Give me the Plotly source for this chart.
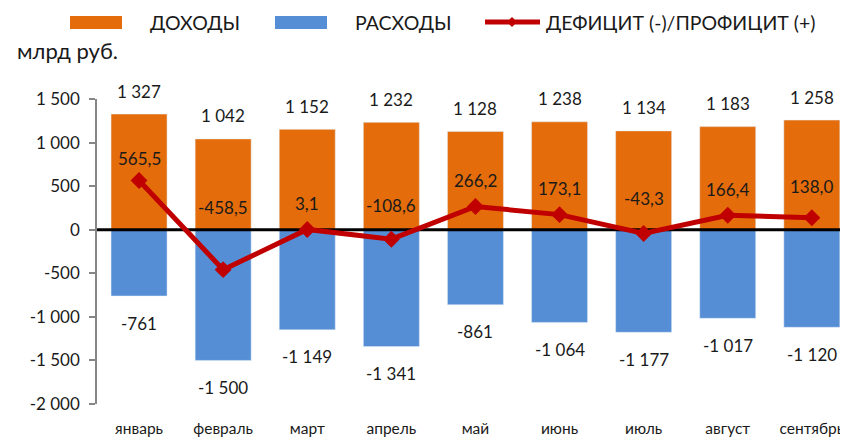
import plotly.graph_objects as go

MONTHS = ["январь", "февраль", "март", "апрель", "май", "июнь", "июль", "август", "сентябрь"]
REVENUE = [1327, 1042, 1152, 1232, 1128, 1238, 1134, 1183, 1258]
EXPENSES = [-761, -1500, -1149, -1341, -861, -1064, -1177, -1017, -1120]
BALANCE = [565.5, -458.5, 3.1, -108.6, 266.2, 173.1, -43.3, 166.4, 138.0]
Y_TICKS = [1500, 1000, 500, 0, -500, -1000, -1500, -2000]
Y_TICK_LABELS = ["1 500", "1 000", "500", "0", "-500", "-1 000", "-1 500", "-2 000"]
LEGEND_NAMES = ["ДОХОДЫ", "РАСХОДЫ", "ДЕФИЦИТ (-)/ПРОФИЦИТ (+)"]
UNIT = "млрд руб."

# label offsets (style only, pixels)
BALANCE_LABEL_SHIFT = [22, 62, 26, 34, 26, 26, 35, 26, 31]

# page has an 8px body margin: the figure is placed at (8, 8) in the 848x438 window
OFF = 8
W, H = 848 - OFF, 438 - OFF
ML, MR, MT, MB = 97 - OFF, 0, 99 - OFF, 34
PW, PH = W - ML - MR, H - MT - MB

ORANGE = "#E46C0A"
BLUE = "#558ED5"
RED = "#C00000"
FONT = "Lato"
TEXT = "#1a1a1a"


def px(x):
    """window pixel x -> paper fraction"""
    return (x - OFF - ML) / PW


def py(y):
    """window pixel y -> paper fraction"""
    return (H - MB - (y - OFF)) / PH


def fmt_int(v):
    s = f"{abs(v):,}".replace(",", " ")
    return ("-" if v < 0 else "") + s


def fmt_dec(v):
    return f"{v:.1f}".replace(".", ",")


fig = go.Figure()
fig.add_trace(go.Bar(x=MONTHS, y=REVENUE, name=LEGEND_NAMES[0], marker_color=ORANGE,
                     width=0.666, showlegend=False))
fig.add_trace(go.Bar(x=MONTHS, y=EXPENSES, name=LEGEND_NAMES[1], marker_color=BLUE,
                     width=0.666, showlegend=False))
# zero line on an overlay axis (drawn above bars, below balance line)
fig.add_trace(go.Scatter(x=[0, 1], y=[0, 0], mode="lines", xaxis="x2",
                         line=dict(color="black", width=3), hoverinfo="skip", showlegend=False))
fig.add_trace(go.Scatter(x=MONTHS, y=BALANCE, name=LEGEND_NAMES[2], mode="lines+markers", xaxis="x3",
                         line=dict(color=RED, width=5),
                         marker=dict(symbol="diamond", size=13, color=RED), showlegend=False))

LBL = dict(family=FONT, size=17, color=TEXT)
ann = []
for m, v in zip(MONTHS, REVENUE):
    ann.append(dict(x=m, y=v, text=fmt_int(v), showarrow=False, yshift=23, font=LBL))
for m, v in zip(MONTHS, EXPENSES):
    ann.append(dict(x=m, y=v, text=fmt_int(v), showarrow=False, yshift=-27, font=LBL))
for m, v, s in zip(MONTHS, BALANCE, BALANCE_LABEL_SHIFT):
    ann.append(dict(x=m, y=v, text=fmt_dec(v), showarrow=False, yshift=s, font=LBL))

# custom legend
shapes = [
    dict(type="rect", xref="paper", yref="paper", x0=px(70), x1=px(122), y0=py(29), y1=py(16),
         fillcolor=ORANGE, line=dict(width=0)),
    dict(type="rect", xref="paper", yref="paper", x0=px(275), x1=px(327), y0=py(29), y1=py(16),
         fillcolor=BLUE, line=dict(width=0)),
    dict(type="line", xref="paper", yref="paper", x0=px(485), x1=px(540), y0=py(22), y1=py(22),
         line=dict(color=RED, width=5)),
    dict(type="path", xref="paper", yref="paper",
         path=f"M{px(512)},{py(17)} L{px(517)},{py(22)} L{px(512)},{py(27)} L{px(507)},{py(22)} Z",
         fillcolor=RED, line=dict(width=0)),
]
for name, x0 in zip(LEGEND_NAMES, [148, 353, 544]):
    ann.append(dict(xref="paper", yref="paper", x=px(x0), y=py(22), xanchor="left", yanchor="middle",
                    text=name, showarrow=False, font=dict(family=FONT, size=19.5, color=TEXT)))
ann.append(dict(xref="paper", yref="paper", x=px(15), y=py(50), xanchor="left", yanchor="middle",
                text=UNIT, showarrow=False, font=dict(family=FONT, size=22, color=TEXT)))

fig.update_layout(
    width=W, height=H,
    margin=dict(l=ML, r=MR, t=MT, b=MB, autoexpand=False),
    paper_bgcolor="white", plot_bgcolor="white",
    barmode="relative",
    showlegend=False,
    annotations=ann,
    shapes=shapes,
    xaxis=dict(type="category", categoryarray=MONTHS, categoryorder="array",
               range=[-0.5, 8.43], showline=False, ticks="", showgrid=False, zeroline=False,
               tickfont=dict(family=FONT, size=15.5, color=TEXT), ticklabelstandoff=13),
    xaxis2=dict(overlaying="x", range=[0, 1], visible=False),
    xaxis3=dict(overlaying="x", type="category", categoryarray=MONTHS, categoryorder="array",
                range=[-0.5, 8.43], visible=False),
    yaxis=dict(range=[-2000, 1500], tickvals=Y_TICKS, ticktext=Y_TICK_LABELS,
               showline=True, linecolor="#868686", linewidth=1.5,
               ticks="outside", ticklen=6, tickcolor="#868686", tickwidth=1.5,
               showgrid=False, zeroline=False, ticklabelstandoff=6,
               tickfont=dict(family=FONT, size=17, color=TEXT)),
)

fig.write_html("out.html")
